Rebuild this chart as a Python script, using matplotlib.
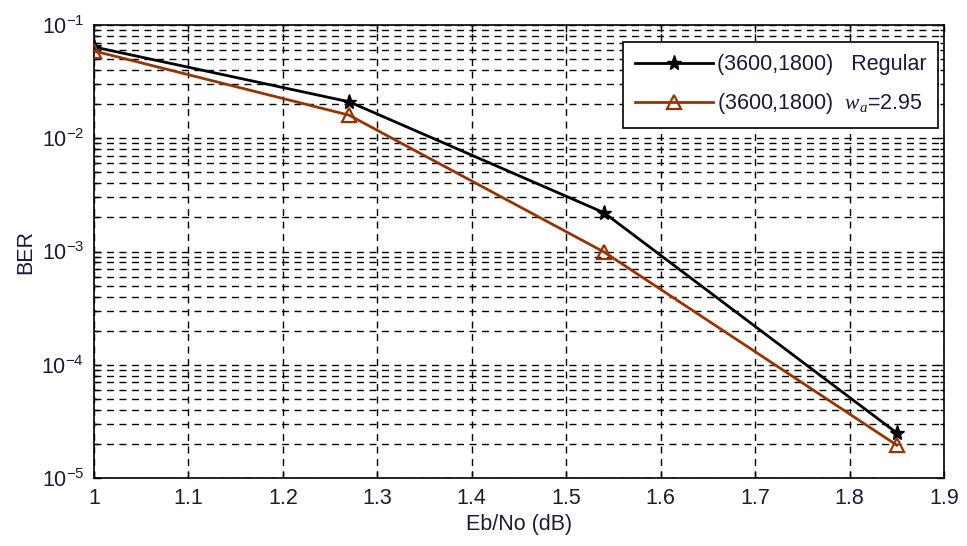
import matplotlib
matplotlib.use("Agg")
import matplotlib.pyplot as plt
from matplotlib.ticker import LogLocator, FixedLocator

plt.rcParams['font.family'] = ['Liberation Sans', 'DejaVu Sans']
plt.rcParams['mathtext.fontset'] = 'custom'
plt.rcParams['mathtext.rm'] = 'Liberation Sans'
plt.rcParams['mathtext.it'] = 'Liberation Serif:italic'
plt.rcParams['mathtext.default'] = 'rm'

ebno = [1.0, 1.27, 1.54, 1.85]
ber_regular = [0.064, 0.021, 0.0022, 2.5e-5]
ber_wa = [0.059, 0.016, 0.00099, 1.95e-5]
labels = ["(3600,1800)   Regular", "(3600,1800)  $\\mathit{w_a}$=2.95"]
xticks = [1.0, 1.1, 1.2, 1.3, 1.4, 1.5, 1.6, 1.7, 1.8, 1.9]
xticklabels = ["1", "1.1", "1.2", "1.3", "1.4", "1.5", "1.6", "1.7", "1.8", "1.9"]

fs = 15.5
txtcol = '#1a1a3a'

fig = plt.figure(figsize=(9.67, 5.46), dpi=100)
ax = fig.add_axes([94/967, 1-478/546, (944-94)/967, (478-25)/546])

red = '#993300'
ax.plot(ebno, ber_regular, color='black', lw=2.0, marker='*', ms=11,
        mfc='black', mec='black', label=labels[0], zorder=4)
ax.plot(ebno, ber_wa, color=red, lw=2.0, marker='^', ms=10,
        mfc='none', mec=red, mew=1.6, label=labels[1], zorder=4)

ax.set_yscale('log')
ax.set_xlim(1.0, 1.9)
ax.set_ylim(1e-5, 1e-1)
ax.xaxis.set_major_locator(FixedLocator(xticks))
ax.set_xticklabels(xticklabels)
ax.yaxis.set_major_locator(LogLocator(base=10, numticks=10))
ax.yaxis.set_minor_locator(LogLocator(base=10, subs=range(2, 10), numticks=20))

gridkw = dict(color='black', linestyle=(0, (5, 4)), linewidth=1.0)
ax.grid(True, which='major', axis='both', **gridkw)
ax.grid(True, which='minor', axis='y', **gridkw)
ax.set_axisbelow(True)

ax.tick_params(which='both', direction='in', top=True, right=True,
               labelsize=fs, colors='black', labelcolor=txtcol)
ax.tick_params(which='major', length=5, width=1, pad=7)
ax.tick_params(which='minor', length=3, width=1)
for s in ax.spines.values():
    s.set_linewidth(1.2)

ax.set_xlabel("Eb/No (dB)", fontsize=fs, color=txtcol, labelpad=4)
ax.set_ylabel("BER", fontsize=fs, color=txtcol, labelpad=4)

leg = ax.legend(loc='upper right', bbox_to_anchor=(0.9935, 0.962),
                fontsize=fs, handlelength=3.6, handletextpad=0.2,
                borderpad=0.55, labelspacing=0.75, fancybox=False,
                framealpha=1, edgecolor='black', borderaxespad=0)
leg.get_frame().set_linewidth(1.2)
for t in leg.get_texts():
    t.set_color(txtcol)

fig.savefig("out.png", dpi=100)
